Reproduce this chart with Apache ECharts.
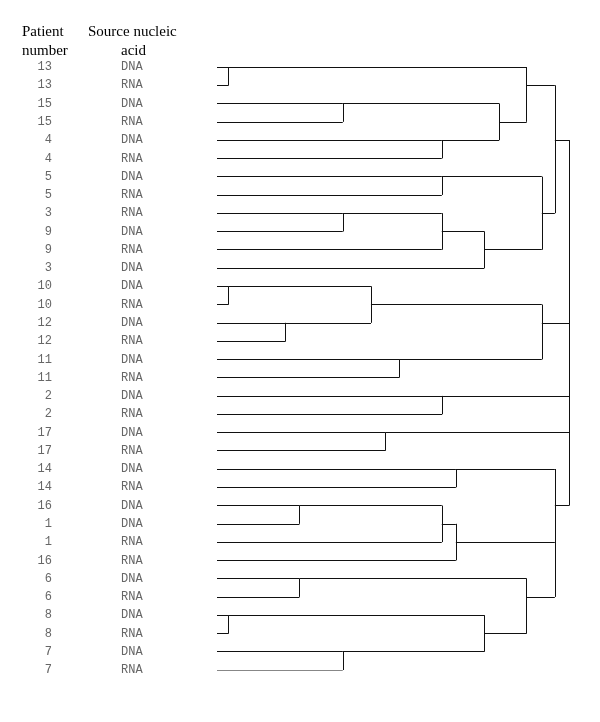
<!DOCTYPE html>
<html>
<head>
<meta charset="utf-8">
<script src="https://cdn.jsdelivr.net/npm/echarts@6/dist/echarts.min.js"></script>
<style>html,body{margin:0;padding:0;background:#fff}#c{width:600px;height:722px}</style>
</head>
<body>
<div id="c"></div>
<script>
// Leaves (top to bottom)
var patientNumbers = ['13','13','15','15','4','4','5','5','3','9','9','3','10','10','12','12','11','11','2','2','17','17','14','14','16','1','1','16','6','6','8','8','7','7'];
var sourceAcids = ['DNA','RNA','DNA','RNA','DNA','RNA','DNA','RNA','RNA','DNA','RNA','DNA','DNA','RNA','DNA','RNA','DNA','RNA','DNA','RNA','DNA','RNA','DNA','RNA','DNA','DNA','RNA','RNA','DNA','RNA','DNA','RNA','DNA','RNA'];

// Internal nodes: ids start at 34 (after the 34 leaves)
var nodeChildren = [
  [0,1],[2,3],[4,5],[35,36],[34,37],[6,7],[8,9],[40,10],[41,11],[39,42],[38,43],
  [12,13],[14,15],[45,46],[16,17],[47,48],[18,19],[20,21],
  [22,23],[24,25],[53,26],[54,27],[28,29],[30,31],[32,33],[57,58],[56,59],
  [52,55,60],[44,49,50,51,61]
];
// Merge distance of each node (root = 100)
var nodeHeight = [3.3,35.7,63.8,80.1,87.9,63.8,35.7,63.8,75.9,92.2,95.9,
  3.3,19.5,43.7,51.7,92.2,63.9,47.8,
  67.8,23.4,63.8,67.8,23.4,3.3,35.7,75.9,87.9,95.9,100];
// Row at which each node's branch leaves to its parent
var nodeRow = [0,2,4,3,1,6,8,9,10,8,4,
  12,14,13,16,14,18,20,
  22,24,25,26,28,30,32,31,29,24,14];

var nLeaves = patientNumbers.length;
function h(id){ return id < nLeaves ? 0 : nodeHeight[id - nLeaves]; }
function r(id){ return id < nLeaves ? id : nodeRow[id - nLeaves]; }

var segs = [];
nodeChildren.forEach(function(ch, i){
  var H = nodeHeight[i];
  var rows = ch.map(r);
  ch.forEach(function(c){ segs.push({coords: [[h(c), r(c)], [H, r(c)]]}); });
  segs.push({coords: [[H, Math.min.apply(null, rows)], [H, Math.max.apply(null, rows)]]});
});

var chart = echarts.init(document.getElementById('c'));
var hdrFont = '15px "Liberation Serif", "Times New Roman", serif';
chart.setOption({
  backgroundColor: '#fff',
  animation: false,
  grid: {left: 217, right: 30.7, top: 67, bottom: 52, containLabel: false},
  xAxis: {type: 'value', min: 0, max: 100, show: false},
  yAxis: [
    {type: 'value', min: 0, max: nLeaves - 1, inverse: true, show: false},
    {type: 'category', data: patientNumbers, inverse: true, boundaryGap: false, position: 'left',
     axisLine: {show: false}, axisTick: {show: false}, splitLine: {show: false},
     axisLabel: {interval: 0, margin: 165, align: 'right', color: '#666', fontSize: 12,
       fontFamily: '"Liberation Mono", "Courier New", monospace'}},
    {type: 'category', data: sourceAcids, inverse: true, boundaryGap: false, position: 'left',
     axisLine: {show: false}, axisTick: {show: false}, splitLine: {show: false},
     axisLabel: {interval: 0, margin: 96, align: 'left', color: '#666', fontSize: 12,
       fontFamily: '"Liberation Mono", "Courier New", monospace'}}
  ],
  graphic: [
    {type: 'text', left: 22, top: 24.5, style: {text: 'Patient', font: hdrFont, fill: '#000'}},
    {type: 'text', left: 22, top: 44, style: {text: 'number', font: hdrFont, fill: '#000'}},
    {type: 'text', left: 88, top: 24.5, style: {text: 'Source nucleic', font: hdrFont, fill: '#000'}},
    {type: 'text', left: 121, top: 44, style: {text: 'acid', font: hdrFont, fill: '#000'}}
  ],
  series: [{
    type: 'lines', coordinateSystem: 'cartesian2d', xAxisIndex: 0, yAxisIndex: 0,
    polyline: false, silent: true,
    lineStyle: {color: '#111', width: 1, opacity: 1},
    data: segs
  }]
});
</script>
</body>
</html>
